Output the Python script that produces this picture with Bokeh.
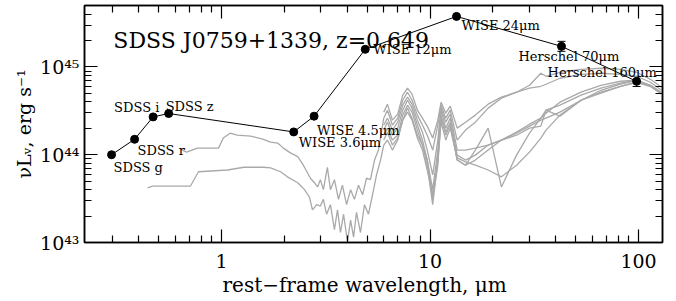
from bokeh.plotting import figure
from bokeh.models import (LogAxis, FixedTicker, Range1d, Label, ColumnDataSource,
                          Whisker, TeeHead, CustomJSTickFormatter, Title)
from bokeh.core.properties import value
from bokeh.embed import file_html
from bokeh.resources import INLINE

# ---------------- data ----------------
band_labels = ["SDSS g", "SDSS r", "SDSS i", "SDSS z", "WISE 3.6μm", "WISE 4.5μm",
               "WISE 12μm", "WISE 24μm", "Herschel 70μm", "Herschel 160μm"]
wave_um = [0.297, 0.383, 0.470, 0.558, 2.22, 2.78, 4.89, 13.4, 42.7, 97.9]
nuLnu = [1.00e44, 1.50e44, 2.70e44, 2.95e44, 1.82e44, 2.75e44, 1.59e45, 3.77e45, 1.72e45, 6.87e44]

herschel_wave = [42.7, 97.9]
herschel_upper = [1.96e45, 7.8e44]
herschel_lower = [1.51e45, 6.0e44]

# template SEDs (units of 1e44 erg/s)
t1_opt_wave = [0.650, 0.680, 0.767, 0.968, 1.02, 1.10, 1.19, 1.38, 1.59, 1.72, 1.86, 1.98,
               2.14, 2.32, 2.47, 2.67, 2.79, 2.89, 2.98, 3.08, 3.22, 3.33, 3.48, 3.64,
               3.80, 3.98, 4.16, 4.34, 4.54, 4.75, 4.96, 5.18, 5.42, 5.66]
t1_opt_L = [1.13, 1.07, 1.19, 1.19, 1.55, 1.76, 1.67, 1.63, 1.50, 1.39, 1.36, 1.19,
            1.05, 0.95, 0.76, 0.54, 0.48, 0.43, 0.52, 0.40, 0.72, 0.40, 0.52, 0.31,
            0.45, 0.27, 0.40, 0.31, 0.45, 0.35, 0.54, 0.52, 0.87, 1.13]
t2_opt_wave = [0.442, 0.467, 0.710, 0.776, 1.07, 1.28, 1.59, 1.72, 1.92, 2.07, 2.32, 2.50,
               2.64, 2.73, 2.86, 2.98, 3.08, 3.19, 3.33, 3.48, 3.60, 3.72, 3.85, 4.02,
               4.16, 4.30, 4.44, 4.64, 4.85, 5.07, 5.30, 5.54, 5.79]
t2_opt_L = [0.42, 0.44, 0.44, 0.64, 0.67, 0.72, 0.72, 0.71, 0.64, 0.56, 0.48, 0.40,
            0.33, 0.235, 0.27, 0.26, 0.31, 0.21, 0.27, 0.14, 0.235, 0.13, 0.21, 0.102,
            0.18, 0.115, 0.22, 0.13, 0.27, 0.21, 0.35, 0.59, 0.87]

ir_wave = [6.0, 6.25, 6.6, 7.0, 7.4, 7.8, 8.2, 8.7, 9.2, 9.7, 10.3, 10.9, 11.3, 11.9, 12.5,
           13.5, 14.8, 16.5, 19.0, 22.0, 26.0, 30.0, 34.0, 36.0, 42.0, 53.0, 66.0, 82.0,
           98.0, 114.0, 135.0]
t1_ir_L = [2.61, 3.22, 2.18, 2.61, 4.18, 5.16, 4.18, 2.83, 2.18, 1.67, 1.13, 2.18, 3.67, 2.61,
           3.22, 1.47, 1.91, 2.35, 3.40, 4.41, 5.16, 6.19, 8.48, 7.84, 8.71, 9.41, 9.67, 9.41,
           8.71, 7.24, 5.43]
t2_ir_L = [1.29, 1.47, 1.13, 1.47, 2.48, 3.40, 2.61, 1.67, 1.29, 0.87, 0.31, 0.76, 2.61, 1.67,
           2.18, 0.87, 0.76, 0.87, 1.13, 1.47, 1.81, 2.23, 2.61, 3.22, 3.67, 4.77, 5.73, 6.53,
           7.06, 6.19, 4.77]
t3_ir_L = [3.06, 3.77, 2.48, 2.90, 4.77, 5.73, 4.90, 3.22, 2.61, 2.12, 1.55, 2.48, 3.97, 2.98,
           3.58, 2.01, 2.35, 2.83, 3.77, 4.53, 5.16, 5.73, 6.03, 6.36, 7.44, 8.26, 8.48, 8.26,
           7.84, 6.70, 5.03]
t4_ir_L = [1.91, 2.35, 1.67, 2.01, 3.22, 4.18, 3.40, 2.18, 1.47, 0.87, 0.40, 1.13, 3.22, 2.01,
           2.61, 0.99, 0.87, 0.99, 1.29, 1.47, 1.67, 2.01, 2.12, 3.22, 2.75, 4.18, 5.43, 6.36,
           7.06, 6.03, 4.65]
t5_ir_L = [1.67, 2.01, 1.47, 1.67, 2.83, 3.67, 3.06, 1.91, 1.29, 0.76, 0.27, 0.87, 2.83, 1.81,
           2.35, 0.87, 0.76, 1.13, 2.01, 0.43, 0.99, 1.76, 2.61, 2.98, 3.97, 5.16, 6.19, 6.88,
           7.06, 6.19, 4.77]
t6_ir_L = [1.47, 1.81, 1.29, 1.55, 2.48, 3.06, 2.48, 1.55, 1.13, 0.67, 0.35, 0.87, 2.35, 1.47,
           2.01, 0.92, 0.83, 0.76, 0.67, 0.56, 0.76, 1.07, 1.55, 1.91, 2.83, 4.18, 5.03, 6.03,
           6.70, 6.03, 4.53]
t7_ir_L = [2.18, 2.61, 1.91, 2.35, 3.67, 4.53, 3.77, 2.48, 1.81, 1.13, 0.59, 1.47, 3.40, 2.35,
           2.90, 1.13, 1.13, 1.19, 1.29, 1.47, 1.76, 2.12, 2.48, 2.61, 3.06, 4.18, 5.16, 6.03,
           6.70, 6.03, 4.65]

x_major = [1, 10, 100]
x_minor = [0.3, 0.4, 0.5, 0.6, 0.7, 0.8, 0.9, 2, 3, 4, 5, 6, 7, 8, 9,
           20, 30, 40, 50, 60, 70, 80, 90]
y_major = [1e43, 1e44, 1e45]
y_minor = [2e43, 3e43, 4e43, 5e43, 6e43, 7e43, 8e43, 9e43,
           2e44, 3e44, 4e44, 5e44, 6e44, 7e44, 8e44, 9e44, 2e45, 3e45, 4e45, 5e45]

title_text = "SDSS J0759+1339, z=0.649"
x_title = "rest−frame wavelength, μm"
y_title = "νLᵥ, erg s⁻¹"

# ---------------- styles ----------------
label_dx = [2, 3, -39, -3, 5, 3, 8, 5, -43, -89]
label_dy = [13, 11, -9, -7, 11, 14, 0, 9, 10, -9]
FONT = "DejaVu Serif"
GREY = "#a9a9a9"

p = figure(width=676, height=301, x_axis_type="log", y_axis_type="log",
           x_range=Range1d(0.2203, 130.3), y_range=Range1d(1e43, 5.02e45),
           output_backend="svg", toolbar_location=None,
           min_border_left=84, min_border_right=14, min_border_top=5, min_border_bottom=59)
p.xgrid.visible = False
p.ygrid.visible = False
p.outline_line_color = "black"
p.outline_line_width = 1.5
p.background_fill_color = "white"
p.border_fill_color = "white"

xfmt = CustomJSTickFormatter(code="return String(Math.round(tick));")
yfmt = CustomJSTickFormatter(code="""
const e = Math.round(Math.log10(tick));
const sup = {"0":"⁰","1":"¹","2":"²","3":"³","4":"⁴","5":"⁵","6":"⁶","7":"⁷","8":"⁸","9":"⁹"};
return "10" + String(e).split("").map(c => sup[c]).join("");
""")
blank = CustomJSTickFormatter(code="return '';")


def style_axis(ax, ticks, minor, fmt, show):
    ax.ticker = FixedTicker(ticks=ticks, minor_ticks=minor)
    ax.formatter = fmt
    ax.major_tick_in = 13
    ax.major_tick_out = 0
    ax.minor_tick_in = 7
    ax.minor_tick_out = 0
    ax.major_tick_line_color = "black"
    ax.minor_tick_line_color = "black"
    ax.major_tick_line_width = 1.2
    ax.minor_tick_line_width = 1.2
    ax.axis_line_color = "black"
    ax.axis_line_width = 1.5
    if show:
        ax.major_label_text_font = FONT
        ax.major_label_text_font_size = "19px"
        ax.major_label_text_color = "black"
        ax.axis_label_text_font = FONT
        ax.axis_label_text_font_size = "19px"
        ax.axis_label_text_font_style = "normal"
        ax.axis_label_text_color = "black"
    else:
        ax.major_label_text_font_size = "0px"
        ax.major_label_standoff = 0


style_axis(p.xaxis[0], x_major, x_minor, xfmt, True)
style_axis(p.yaxis[0], y_major, y_minor, yfmt, True)
p.xaxis[0].major_label_standoff = 11
p.yaxis[0].axis_label = y_title
p.yaxis[0].major_label_standoff = 5
p.yaxis[0].axis_label_standoff = 2

top_ax = LogAxis()
right_ax = LogAxis()
style_axis(top_ax, x_major, x_minor, blank, False)
style_axis(right_ax, y_major, y_minor, blank, False)
p.add_layout(top_ax, "above")
p.add_layout(right_ax, "right")

# x-axis title as a panel below the axis, starting where the reference's does
xt = Title(text=x_title, align="left", offset=138, standoff=0, text_font=FONT,
           text_font_size="20px", text_font_style="normal", text_color="black")
p.add_layout(xt, "below")

# templates
templates = [
    (t1_opt_wave + ir_wave, t1_opt_L + t1_ir_L),
    (t2_opt_wave + ir_wave, t2_opt_L + t2_ir_L),
    (ir_wave, t3_ir_L),
    (ir_wave, t4_ir_L),
    (ir_wave, t5_ir_L),
    (ir_wave, t6_ir_L),
    (ir_wave, t7_ir_L),
]
for w, L in templates:
    p.line(w, [v * 1e44 for v in L], line_color=GREY, line_width=1.3)

# observed SED
p.line(wave_um, nuLnu, line_color="black", line_width=1)
err_src = ColumnDataSource(dict(x=herschel_wave, upper=herschel_upper, lower=herschel_lower))
p.add_layout(Whisker(source=err_src, base="x", upper="upper", lower="lower",
                     dimension="height", line_color="black", line_width=1,
                     upper_head=TeeHead(size=8, line_color="black", line_width=1),
                     lower_head=TeeHead(size=8, line_color="black", line_width=1)))
p.scatter(wave_um, nuLnu, size=8, marker="circle", fill_color="black", line_color="black")

lab_src = ColumnDataSource(dict(x=wave_um, y=nuLnu, text=band_labels, dx=label_dx, dy=label_dy))
p.text(x="x", y="y", text="text", x_offset="dx", y_offset="dy", source=lab_src,
       text_font=value(FONT), text_font_size=value("13px"), text_color="black",
       text_align="left", text_baseline="middle")

p.add_layout(Label(x=0.303, y=2.01e45, text=title_text, text_font=FONT,
                   text_font_size="22px", text_color="black",
                   text_align="left", text_baseline="alphabetic"))

open("out.html", "w").write(file_html(p, INLINE))
